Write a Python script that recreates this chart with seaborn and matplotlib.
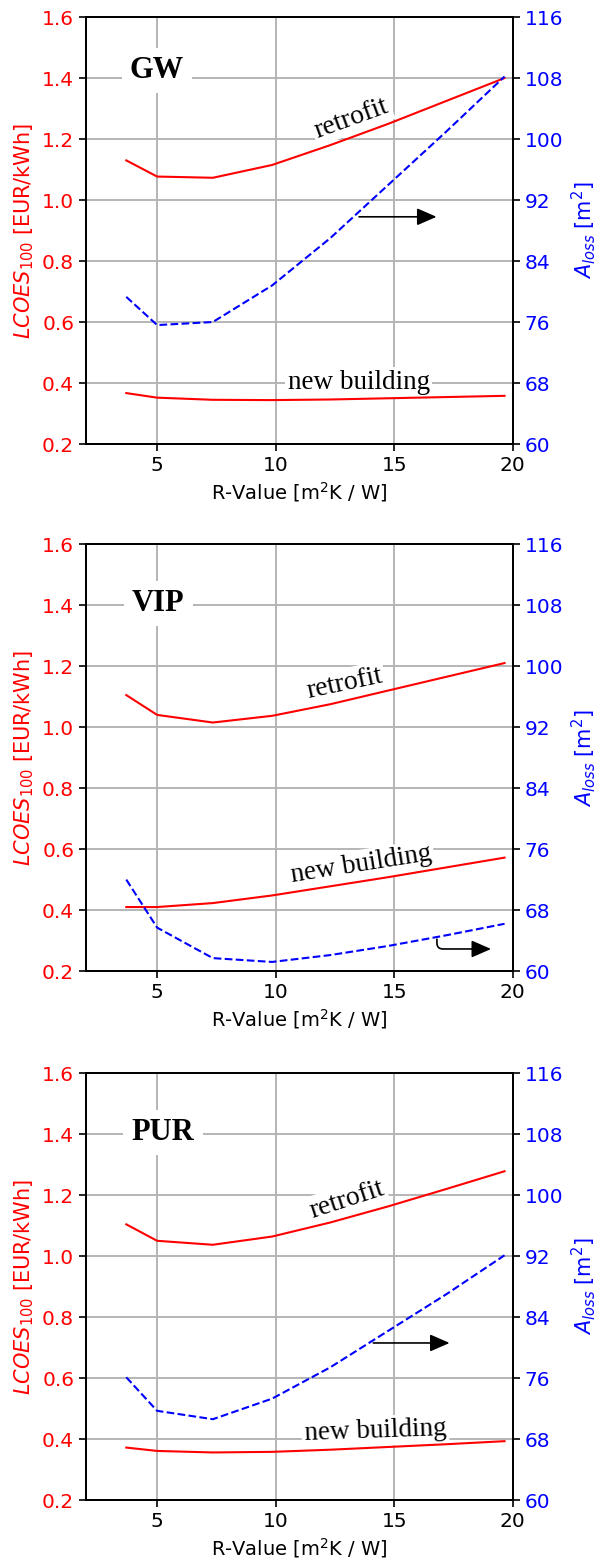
import numpy as np
import pandas as pd
import seaborn as sns
import matplotlib
matplotlib.use("Agg")
import matplotlib.pyplot as plt

# R-value sample points
r_value = [3.7, 5.0, 7.35, 9.85, 12.3, 14.75, 17.2, 19.65]

# GW
gw_retrofit = [1.13, 1.077, 1.073, 1.115, 1.18, 1.25, 1.325, 1.40]
gw_new = [0.367, 0.352, 0.345, 0.344, 0.346, 0.350, 0.354, 0.358]
gw_aloss = [79.3, 75.6, 76.0, 80.8, 87.0, 94.0, 101.0, 108.2]

# VIP
vip_retrofit = [1.105, 1.040, 1.015, 1.037, 1.075, 1.120, 1.165, 1.210]
vip_new = [0.410, 0.410, 0.423, 0.448, 0.478, 0.508, 0.540, 0.572]
vip_aloss = [72.0, 65.7, 61.7, 61.2, 62.1, 63.3, 64.7, 66.2]

# PUR
pur_retrofit = [1.104, 1.050, 1.037, 1.064, 1.110, 1.163, 1.220, 1.278]
pur_new = [0.372, 0.361, 0.356, 0.358, 0.365, 0.374, 0.383, 0.393]
pur_aloss = [76.1, 71.7, 70.6, 73.3, 77.4, 82.2, 87.0, 92.1]

materials = ["GW", "VIP", "PUR"]
left_ticks = [0.2, 0.4, 0.6, 0.8, 1.0, 1.2, 1.4, 1.6]
right_ticks = [60, 68, 76, 84, 92, 100, 108, 116]
x_ticks = [5, 10, 15, 20]

plt.rcParams["font.size"] = 14

fig = plt.figure(figsize=(5.97, 15.64), dpi=100)
bottoms = [0.7161, 0.3791, 0.0409]

panels = [
    (gw_retrofit, gw_new, gw_aloss),
    (vip_retrofit, vip_new, vip_aloss),
    (pur_retrofit, pur_new, pur_aloss),
]

# label positions: (x, y, rotation)
name_pos = [(5.0, 1.425), (5.05, 1.406), (5.25, 1.405)]
retro_pos = [(13.2, 1.268, 20), (12.9, 1.142, 12), (13.0, 1.183, 18)]
new_pos = [(13.5, 0.402, 0), (13.6, 0.548, 9), (14.2, 0.427, 2)]

serif = ["Liberation Serif", "DejaVu Serif"]
white_box = dict(facecolor="white", edgecolor="none", pad=2)

for i, (retro, new, aloss) in enumerate(panels):
    ax = fig.add_axes([0.144, bottoms[i], 0.715, 0.273])
    ax2 = ax.twinx()

    sns.lineplot(x=r_value, y=retro, ax=ax, color="red", lw=1.5, zorder=3)
    sns.lineplot(x=r_value, y=new, ax=ax, color="red", lw=1.5, zorder=3)
    sns.lineplot(x=r_value, y=aloss, ax=ax2, color="blue", lw=1.5, linestyle="--")

    ax.set_xlim(2, 20)
    ax.set_ylim(0.2, 1.6)
    ax2.set_ylim(60, 116)
    ax.set_xticks(x_ticks)
    ax.set_yticks(left_ticks)
    ax.set_yticklabels([f"{v:.1f}" for v in left_ticks])
    ax2.set_yticks(right_ticks)

    ax.grid(True, color="#b5b5b5", lw=1.4)
    ax.set_axisbelow(True)

    ax.tick_params(axis="y", colors="black", labelcolor="red", labelsize=14.5, length=5, width=1.2)
    ax.tick_params(axis="x", labelsize=14.5, length=5, width=1.2)
    ax2.tick_params(axis="y", colors="black", labelcolor="blue", labelsize=14.5, length=5, width=1.2)
    for a in (ax, ax2):
        for s in a.spines.values():
            s.set_linewidth(1.4)

    ax.set_ylabel("$LCOES_{100}$ [EUR/kWh]", color="red", fontsize=15)
    ax2.set_ylabel("$A_{loss}$ [m$^2$]", color="blue", fontsize=15)
    ax.set_xlabel("R-Value [m$^2$K / W]", fontsize=14)

    nx, ny = name_pos[i]
    ax.text(nx, ny, materials[i], family=serif, fontsize=22, fontweight="bold",
            ha="center", va="center", zorder=2,
            bbox=dict(facecolor="white", edgecolor="none", pad=6))
    rx, ry, rr = retro_pos[i]
    ax.text(rx, ry, "retrofit", family=serif, fontsize=20, rotation=rr,
            ha="center", va="center", rotation_mode="anchor", zorder=2, bbox=white_box)
    bx, by, br = new_pos[i]
    ax.text(bx, by, "new building", family=serif, fontsize=19.5, rotation=br,
            ha="center", va="center", rotation_mode="anchor", zorder=2, bbox=white_box)

    arrow = "-|>,head_length=0.8,head_width=0.35"
    if i == 0:
        ax2.annotate("", xy=(16.9, 89.8), xytext=(13.4, 89.8),
                     arrowprops=dict(arrowstyle=arrow, color="black", lw=1.2, mutation_scale=15))
    elif i == 1:
        ax2.annotate("", xy=(19.2, 62.9), xytext=(16.8, 64.55),
                     arrowprops=dict(arrowstyle=arrow, color="black", lw=1.2, mutation_scale=15,
                                     connectionstyle="angle,angleA=90,angleB=0,rad=6"))
    else:
        ax2.annotate("", xy=(17.45, 80.6), xytext=(14.0, 80.6),
                     arrowprops=dict(arrowstyle=arrow, color="black", lw=1.2, mutation_scale=15))

fig.savefig("out.png", dpi=100)
